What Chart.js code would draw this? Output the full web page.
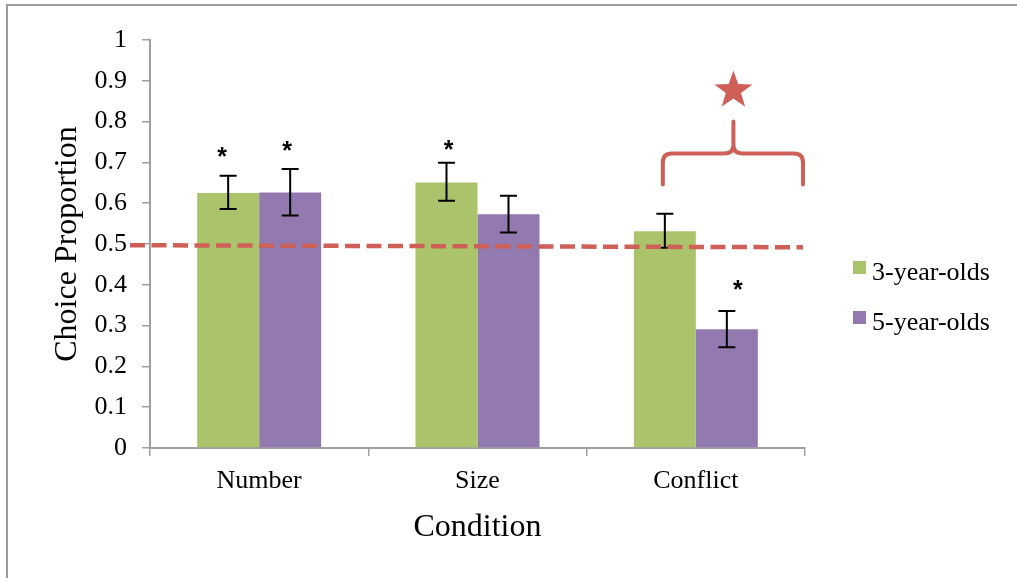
<!DOCTYPE html>
<html lang="en">
<head>
    <meta charset="UTF-8">
    <title>Choice Proportion by Condition</title>
    <script src="https://cdn.jsdelivr.net/npm/chart.js"></script>
    <style>
        body {
            margin: 0;
            padding: 0;
            background-color: #fff;
            overflow: hidden;
        }

        .frame {
            position: absolute;
            left: 6px;
            top: 4px;
            width: 1100px;
            height: 700px;
            border-top: 2px solid #9c9c9c;
            border-left: 2px solid #9c9c9c;
        }

        .chart-container {
            position: absolute;
            left: 0;
            top: 0;
            width: 1017px;
            height: 578px;
        }
    </style>
</head>
<body>
<div class="frame"></div>
<div class="chart-container">
    <canvas id="choiceChart"></canvas>
</div>

<script>
    // Datos
    var conditions = ['Number', 'Size', 'Conflict'];
    var seriesLabels = ['3-year-olds', '5-year-olds'];
    var threeYearOlds = [0.625, 0.651, 0.531];
    var fiveYearOlds = [0.626, 0.573, 0.291];
    var threeErrLow = [0.586, 0.606, 0.491];
    var threeErrHigh = [0.667, 0.699, 0.574];
    var fiveErrLow = [0.570, 0.528, 0.247];
    var fiveErrHigh = [0.684, 0.618, 0.336];
    var threeStars = [0.727, 0.746, null];
    var fiveStars = [0.743, null, 0.403];
    var chanceLine = [0.497, 0.492];
    var yTickLabels = ['0', '0.1', '0.2', '0.3', '0.4', '0.5', '0.6', '0.7', '0.8', '0.9', '1'];
    // llave y estrella sobre "Conflict" (en unidades del eje y)
    var braceLevels = { ends: 0.646, bar: 0.722, tip: 0.800 };
    var bigStarLevel = 0.876;

    var serif = "'Liberation Serif', 'Times New Roman', serif";
    var green = '#abc46b';
    var purple = '#927ab1';
    var red = '#cf6058';

    // Barras de error
    var errorBars = {
        id: 'errorBars',
        afterDatasetsDraw: function(chart) {
            var ctx = chart.ctx;
            var y = chart.scales.y;
            ctx.save();
            ctx.strokeStyle = '#000';
            ctx.lineWidth = 2;
            chart.data.datasets.forEach(function(ds, i) {
                var meta = chart.getDatasetMeta(i);
                meta.data.forEach(function(bar, j) {
                    var top = y.getPixelForValue(ds.errHigh[j]);
                    var bot = y.getPixelForValue(ds.errLow[j]);
                    ctx.beginPath();
                    ctx.moveTo(bar.x, top);
                    ctx.lineTo(bar.x, bot);
                    ctx.moveTo(bar.x - 8.5, top);
                    ctx.lineTo(bar.x + 8.5, top);
                    ctx.moveTo(bar.x - 8.5, bot);
                    ctx.lineTo(bar.x + 8.5, bot);
                    ctx.stroke();
                });
            });
            ctx.restore();
        }
    };

    // Asteriscos, linea de azar, llave, estrella y leyenda
    var annotations = {
        id: 'annotations',
        afterDraw: function(chart) {
            var ctx = chart.ctx;
            var x = chart.scales.x;
            var y = chart.scales.y;
            var area = chart.chartArea;
            ctx.save();

            // asteriscos
            var nudges = [[-6, 2, 0], [-3, 0, 11]];
            ctx.fillStyle = '#000';
            ctx.font = "bold 25px 'Liberation Sans', Arial, sans-serif";
            ctx.textAlign = 'center';
            ctx.textBaseline = 'alphabetic';
            chart.data.datasets.forEach(function(ds, i) {
                var meta = chart.getDatasetMeta(i);
                ds.stars.forEach(function(v, j) {
                    if (v === null) return;
                    ctx.fillText('*', meta.data[j].x + nudges[i][j], y.getPixelForValue(v) + 14);
                });
            });

            // linea de azar discontinua
            ctx.strokeStyle = red;
            ctx.lineWidth = 4.5;
            ctx.setLineDash([15, 6.5]);
            ctx.beginPath();
            ctx.moveTo(area.left - 20, y.getPixelForValue(chanceLine[0]));
            ctx.lineTo(area.right - 2, y.getPixelForValue(chanceLine[1]));
            ctx.stroke();
            ctx.setLineDash([]);

            // llave sobre Conflict
            var greenMeta = chart.getDatasetMeta(0);
            var catW = (area.right - area.left) / conditions.length;
            var L = greenMeta.data[2].x - 2;
            var R = x.getPixelForValue(2) + catW / 2 - 2;
            var M = (L + R) / 2 + 0.5;
            var yEnd = y.getPixelForValue(braceLevels.ends);
            var yBar = y.getPixelForValue(braceLevels.bar);
            var yTip = y.getPixelForValue(braceLevels.tip);
            var r = 9;
            ctx.lineWidth = 4;
            ctx.lineCap = 'round';
            ctx.lineJoin = 'round';
            ctx.beginPath();
            ctx.moveTo(L, yEnd);
            ctx.lineTo(L, yBar + r);
            ctx.quadraticCurveTo(L, yBar, L + r, yBar);
            ctx.lineTo(M - r, yBar);
            ctx.quadraticCurveTo(M, yBar, M, yBar - r);
            ctx.lineTo(M, yTip);
            ctx.moveTo(M, yBar - r);
            ctx.quadraticCurveTo(M, yBar, M + r, yBar);
            ctx.lineTo(R - r, yBar);
            ctx.quadraticCurveTo(R, yBar, R, yBar + r);
            ctx.lineTo(R, yEnd);
            ctx.stroke();

            // estrella
            var cx = M;
            var cy = y.getPixelForValue(bigStarLevel);
            ctx.fillStyle = red;
            ctx.beginPath();
            for (var k = 0; k < 10; k++) {
                var rad = (k % 2 === 0) ? 20 : 8;
                var ang = -Math.PI / 2 + k * Math.PI / 5;
                var px = cx + rad * Math.cos(ang);
                var py = cy + rad * Math.sin(ang);
                if (k === 0) ctx.moveTo(px, py); else ctx.lineTo(px, py);
            }
            ctx.closePath();
            ctx.fill();

            // leyenda
            ctx.font = '26px ' + serif;
            ctx.textAlign = 'left';
            ctx.textBaseline = 'alphabetic';
            chart.data.datasets.forEach(function(ds, i) {
                var top = 261 + i * 50;
                ctx.fillStyle = ds.backgroundColor;
                ctx.fillRect(area.right + 48, top, 13, 13);
                ctx.fillStyle = '#000';
                ctx.fillText(ds.label, area.right + 67, top + 19);
            });

            ctx.restore();
        }
    };

    var ctx = document.getElementById('choiceChart').getContext('2d');
    var choiceChart = new Chart(ctx, {
        type: 'bar',
        data: {
            labels: conditions,
            datasets: [{
                label: seriesLabels[0],
                data: threeYearOlds,
                backgroundColor: green,
                errLow: threeErrLow,
                errHigh: threeErrHigh,
                stars: threeStars
            }, {
                label: seriesLabels[1],
                data: fiveYearOlds,
                backgroundColor: purple,
                errLow: fiveErrLow,
                errHigh: fiveErrHigh,
                stars: fiveStars
            }]
        },
        options: {
            responsive: true,
            maintainAspectRatio: false,
            animation: false,
            categoryPercentage: 0.568,
            barPercentage: 1.0,
            layout: {
                padding: { top: 40, right: 212, bottom: 0, left: 0 }
            },
            plugins: {
                legend: { display: false },
                tooltip: { enabled: false }
            },
            scales: {
                x: {
                    grid: {
                        drawOnChartArea: false,
                        drawTicks: true,
                        tickLength: 8,
                        color: '#a0a0a0',
                        lineWidth: 1.5,
                        offset: true
                    },
                    border: { display: true, color: '#a0a0a0', width: 2 },
                    ticks: {
                        color: '#000',
                        font: { family: serif, size: 26 },
                        padding: 10
                    },
                    title: {
                        display: true,
                        text: 'Condition',
                        color: '#000',
                        font: { family: serif, size: 32 },
                        padding: { top: 0, bottom: 31 }
                    },
                    afterFit: function(scale) { scale.height = 130; }
                },
                y: {
                    min: 0,
                    max: 1,
                    grid: {
                        drawOnChartArea: false,
                        drawTicks: true,
                        tickLength: 8,
                        color: '#a0a0a0',
                        lineWidth: 1.5
                    },
                    border: { display: true, color: '#a0a0a0', width: 2 },
                    ticks: {
                        stepSize: 0.1,
                        color: '#000',
                        font: { family: serif, size: 26 },
                        padding: 15,
                        callback: function(value, index) { return yTickLabels[index]; }
                    },
                    title: {
                        display: true,
                        text: 'Choice Proportion',
                        color: '#000',
                        font: { family: serif, size: 32 },
                        padding: { top: 48, bottom: 0 }
                    },
                    afterFit: function(scale) { scale.width = 150; }
                }
            }
        },
        plugins: [errorBars, annotations]
    });
</script>
</body>
</html>
